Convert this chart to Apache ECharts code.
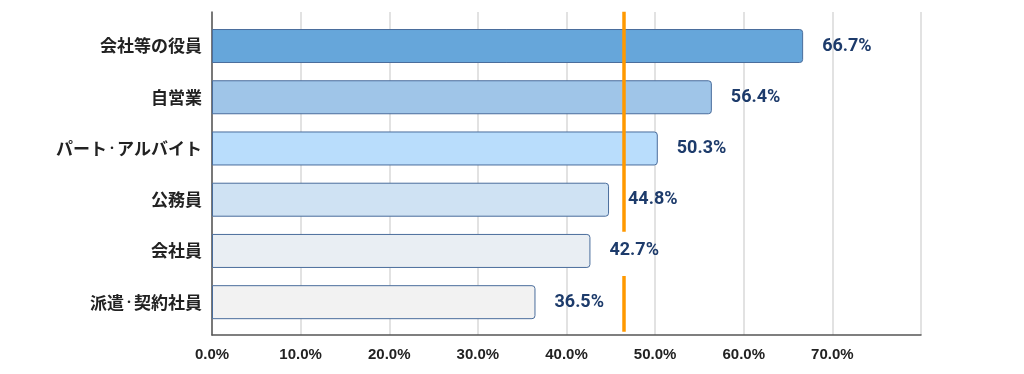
<!DOCTYPE html>
<html>
<head>
<meta charset="utf-8">
<script src="https://cdn.jsdelivr.net/npm/echarts@6/dist/echarts.min.js"></script>
<style>html,body{margin:0;padding:0;background:#fff;}#c{width:1024px;height:374px;}</style>
</head>
<body>
<div id="c"></div>
<script>
const categories = ['会社等の役員', '自営業', 'パート・アルバイト', '公務員', '会社員', '派遣・契約社員'];
const values = [66.7, 56.4, 50.3, 44.8, 42.7, 36.5];
const barColors = ['#66a6da', '#9fc5e8', '#b9ddfc', '#cfe2f3', '#e9eef3', '#f2f2f2'];
const xTicks = [0, 10, 20, 30, 40, 50, 60, 70, 80];
const avgValue = 46.5;
// vertical extent of the average-line pieces, in category-index units
const avgSpans = [[-0.66, 3.64], [4.5, 5.59]];

const chart = echarts.init(document.getElementById('c'));
const xMin = xTicks[0], xMax = xTicks[xTicks.length - 1], xStep = xTicks[1] - xTicks[0];
const pad = 0.155;
const catFont = {color: '#222', fontSize: 17, fontWeight: 'bold', fontFamily: 'Noto Sans CJK JP'};

chart.setOption({
  animation: false,
  grid: [
    {left: 212, right: 103, top: 12, bottom: 39},
    {left: 212, right: 103, top: 20.4, bottom: 46.2}
  ],
  xAxis: [
    {gridIndex: 0, type: 'value', min: xMin, max: xMax, interval: xStep,
     axisLine: {show: true, onZero: false, lineStyle: {color: '#555', width: 1.5}},
     axisTick: {show: false},
     splitLine: {show: true, lineStyle: {color: '#e2e2e2', width: 2}},
     axisLabel: {showMaxLabel: false, margin: 12, color: '#222', fontSize: 15, fontWeight: 'bold',
       fontFamily: 'Liberation Sans', formatter: v => v.toFixed(1) + '%'}},
    {gridIndex: 1, type: 'value', min: xMin, max: xMax, show: false}
  ],
  yAxis: [
    {gridIndex: 0, type: 'value', min: -0.5 - pad, max: categories.length - 0.5 + pad, inverse: true,
     axisLine: {show: true, onZero: false, lineStyle: {color: '#555', width: 1.5}},
     axisTick: {show: false}, axisLabel: {show: false}, splitLine: {show: false}},
    {gridIndex: 1, type: 'category', data: categories, inverse: true,
     axisLine: {show: false}, axisTick: {show: false},
     axisLabel: Object.assign({margin: 10,
       formatter: v => v.split('・').map(s => '{t|' + s + '}').join('{d|・}'),
       rich: {t: Object.assign({}, catFont), d: Object.assign({}, catFont, {fontSize: 10})}
     }, catFont)}
  ],
  series: [
    {type: 'bar', xAxisIndex: 1, yAxisIndex: 1, barWidth: 34,
     data: values.map((v, i) => ({value: v, itemStyle: {color: barColors[i]}})),
     itemStyle: {borderColor: '#4a6d9c', borderWidth: 1, borderRadius: [0, 3, 3, 0]},
     label: {show: true, position: 'right', distance: 19, color: '#1d3b6b', fontSize: 18,
       fontWeight: 'bold', fontFamily: 'Roboto', formatter: p => p.value.toFixed(1) + '%'}},
    {type: 'lines', coordinateSystem: 'cartesian2d', xAxisIndex: 0, yAxisIndex: 0, z: 5,
     lineStyle: {color: '#ff9900', width: 3.5, opacity: 1},
     data: avgSpans.map(s => ({coords: [[avgValue, s[0]], [avgValue, s[1]]]}))}
  ]
});
</script>
</body>
</html>
